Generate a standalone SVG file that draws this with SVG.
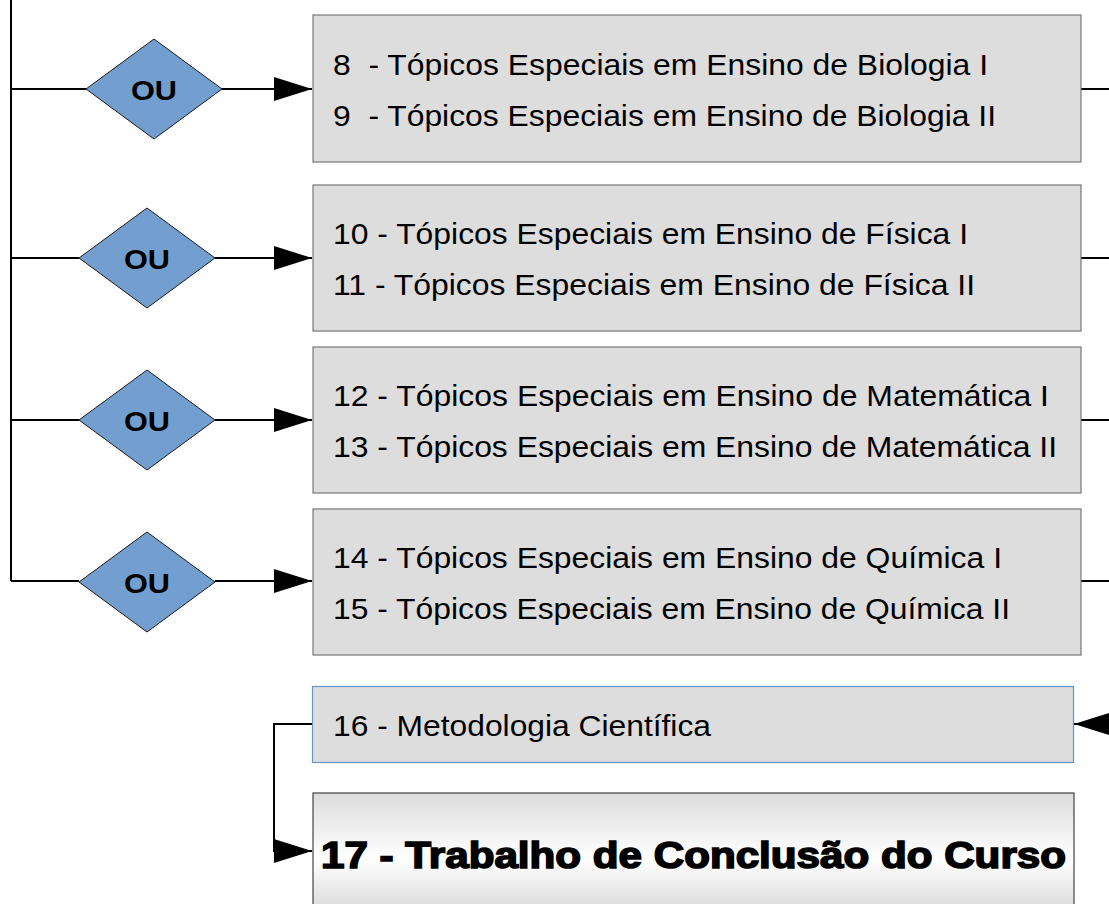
<svg xmlns="http://www.w3.org/2000/svg" width="1109" height="904" viewBox="0 0 1109 904">
<style>
.box{fill:#dddddd;stroke:#777;stroke-width:1.2}
.dia{fill:#729fcf;stroke:#1a1a1a;stroke-width:1}
.t{font-family:"Liberation Sans",Arial,sans-serif;font-size:30px;fill:#000}
.ou{font-family:"Liberation Sans",Arial,sans-serif;font-size:28px;font-weight:bold;fill:#000}
.ln{fill:none;stroke:#000;stroke-width:2}
.big{font-family:"Liberation Sans",Arial,sans-serif;font-size:36px;font-weight:bold;fill:#000;stroke:#000;stroke-width:1.6}
</style>
<defs>
<marker id="ah" markerWidth="38" markerHeight="24" refX="38" refY="12" orient="auto" markerUnits="userSpaceOnUse">
<path d="M0,0 L38,12 L0,24 Z" fill="#000"/>
</marker>
<linearGradient id="g17" x1="0" y1="0" x2="0" y2="1">
<stop offset="0" stop-color="#dcdcdc"/>
<stop offset="0.55" stop-color="#ffffff"/>
<stop offset="1" stop-color="#d8d8d8"/>
</linearGradient>
</defs>
<g id="connectors">
<path class="ln" d="M11,0 V581"/>
<path class="ln" d="M11,89 H86"/>
<path class="ln" d="M222,89 H312" marker-end="url(#ah)"/>
<path class="ln" d="M11,258 H79"/>
<path class="ln" d="M215,258 H312" marker-end="url(#ah)"/>
<path class="ln" d="M11,420 H79"/>
<path class="ln" d="M215,420 H312" marker-end="url(#ah)"/>
<path class="ln" d="M11,581 H79"/>
<path class="ln" d="M215,581 H312" marker-end="url(#ah)"/>
<path class="ln" d="M1081,89 H1109"/>
<path class="ln" d="M1081,258 H1109"/>
<path class="ln" d="M1081,420 H1109"/>
<path class="ln" d="M1081,581 H1109"/>
<path class="ln" d="M1109,724 H1074" marker-end="url(#ah)"/>
<path class="ln" d="M312,724 H274 V851 H312" marker-end="url(#ah)"/>
</g>
<g id="ou1"><polygon class="dia" points="154,39 222,89 154,139 86,89"/><text class="ou" x="131" y="100" textLength="46" lengthAdjust="spacingAndGlyphs">OU</text></g>
<g id="ou2"><polygon class="dia" points="147,208 215,258 147,308 79,258"/><text class="ou" x="124" y="269" textLength="46" lengthAdjust="spacingAndGlyphs">OU</text></g>
<g id="ou3"><polygon class="dia" points="147,370 215,420 147,470 79,420"/><text class="ou" x="124" y="431" textLength="46" lengthAdjust="spacingAndGlyphs">OU</text></g>
<g id="ou4"><polygon class="dia" points="147,532 215,582 147,632 79,582"/><text class="ou" x="124" y="593" textLength="46" lengthAdjust="spacingAndGlyphs">OU</text></g>
<g id="box1"><rect class="box" x="313" y="15" width="768" height="147"/>
<text class="t" x="333" y="75" xml:space="preserve" textLength="655" lengthAdjust="spacingAndGlyphs">8  - Tópicos Especiais em Ensino de Biologia I</text>
<text class="t" x="333" y="126" xml:space="preserve" textLength="663" lengthAdjust="spacingAndGlyphs">9  - Tópicos Especiais em Ensino de Biologia II</text></g>
<g id="box2"><rect class="box" x="313" y="185" width="768" height="146"/>
<text class="t" x="333" y="244" textLength="635" lengthAdjust="spacingAndGlyphs">10 - Tópicos Especiais em Ensino de Física I</text>
<text class="t" x="333" y="295" textLength="642" lengthAdjust="spacingAndGlyphs">11 - Tópicos Especiais em Ensino de Física II</text></g>
<g id="box3"><rect class="box" x="313" y="347" width="768" height="146"/>
<text class="t" x="333" y="406" textLength="716" lengthAdjust="spacingAndGlyphs">12 - Tópicos Especiais em Ensino de Matemática I</text>
<text class="t" x="333" y="457" textLength="724" lengthAdjust="spacingAndGlyphs">13 - Tópicos Especiais em Ensino de Matemática II</text></g>
<g id="box4"><rect class="box" x="313" y="509" width="768" height="146"/>
<text class="t" x="333" y="568" textLength="669" lengthAdjust="spacingAndGlyphs">14 - Tópicos Especiais em Ensino de Química I</text>
<text class="t" x="333" y="619" textLength="677" lengthAdjust="spacingAndGlyphs">15 - Tópicos Especiais em Ensino de Química II</text></g>
<g id="box16"><rect x="312.5" y="686.5" width="761" height="76" fill="#dddddd" stroke="#6a93c8" stroke-width="1.2"/>
<text class="t" x="333" y="736" textLength="378" lengthAdjust="spacingAndGlyphs">16 - Metodologia Científica</text></g>
<g id="box17"><rect x="313" y="793" width="761" height="120" fill="url(#g17)" stroke="#444" stroke-width="1.2"/>
<text class="big" x="321" y="868" textLength="745" lengthAdjust="spacingAndGlyphs">17 - Trabalho de Conclusão do Curso</text></g>
</svg>
